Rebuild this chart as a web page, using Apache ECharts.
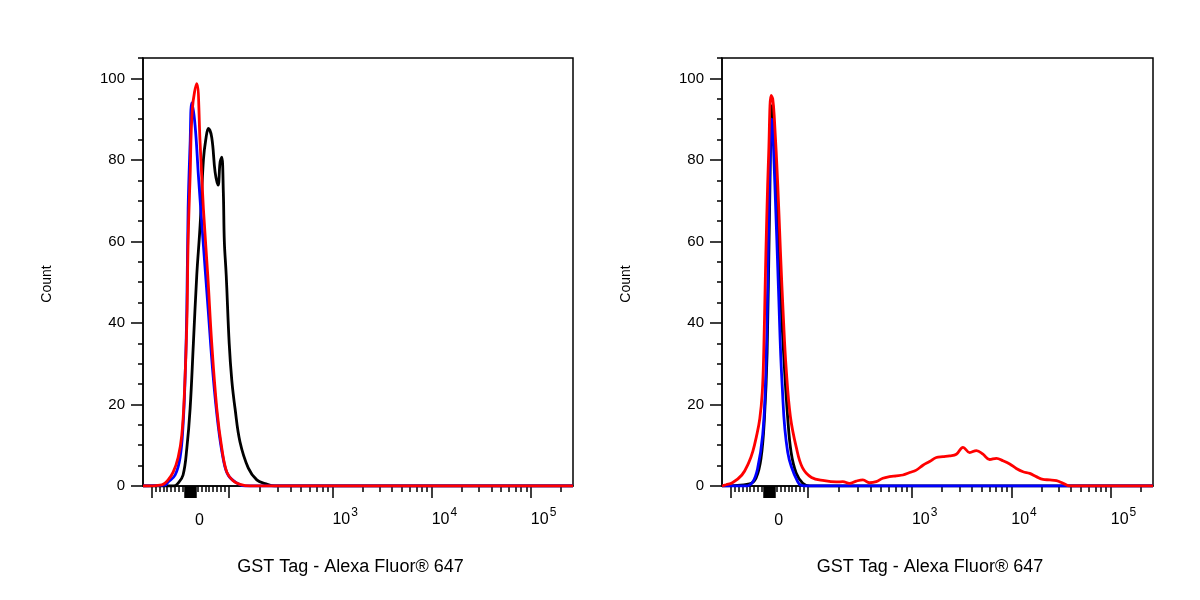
<!DOCTYPE html>
<html lang="en">
<head>
<meta charset="UTF-8">
<title>GST Tag - Alexa Fluor 647</title>
<script src="https://cdn.jsdelivr.net/npm/echarts@6.0.0/dist/echarts.min.js"></script>
<style>
    html, body { margin: 0; padding: 0; background: #fff; }
    #chart { width: 1200px; height: 600px; }
</style>
</head>
<body>
<div id="chart"></div>
<script>
// x is in display units of the biexponential axis: 10^3 -> 3, 10^4 -> 4, 10^5 -> 5
var leftBlack = [[1.09,0],[1.40,0],[1.444,0.7],[1.494,2.7],[1.532,9.3],[1.565,19],[1.598,35],[1.632,51.7],
    [1.666,64],[1.699,80],[1.723,85],[1.749,87.7],[1.783,85.5],[1.817,77],[1.847,73.8],[1.867,79.4],[1.884,80.7],
    [1.900,72],[1.910,60],[1.929,51.7],[1.959,35],[1.985,26],[2.018,19],[2.068,10.8],[2.152,4.4],[2.237,1.5],
    [2.32,0.6],[2.42,0],[5.425,0]];
var leftBlue = [[1.09,0],[1.31,0.2],[1.343,1],[1.414,2.7],[1.464,7],[1.494,15],[1.515,27],[1.532,43.6],
    [1.545,68],[1.565,84],[1.582,94],[1.615,88.5],[1.649,76],[1.696,60],[1.746,43.6],[1.797,27],[1.847,15],
    [1.897,6.9],[1.948,2.7],[2.038,0.7],[2.12,0],[5.425,0]];
var leftRed = [[1.09,0],[1.28,0.3],[1.343,1.5],[1.394,3.4],[1.444,7],[1.481,12.5],[1.508,23],[1.532,40],
    [1.545,60],[1.565,76],[1.588,92.6],[1.632,98.7],[1.666,84],[1.699,68],[1.743,51.7],[1.783,35],[1.834,19],
    [1.884,9.3],[1.935,3.4],[1.998,1.3],[2.068,0.4],[2.17,0],[5.425,0]];

var rightBlack = [[1.09,0],[1.366,0.5],[1.433,2],[1.483,6.9],[1.517,16.7],[1.544,32.8],[1.567,65.7],[1.594,93.4],
    [1.634,73.8],[1.675,49],[1.718,29],[1.751,16.7],[1.785,8.3],[1.836,3.2],[1.902,0.7],[1.97,0],[5.425,0]];
var rightBlue = [[1.09,0],[1.33,0],[1.399,1],[1.449,4.4],[1.499,12.5],[1.527,24.8],[1.55,49],[1.567,73.8],
    [1.59,90],[1.622,73.8],[1.657,49],[1.695,24.8],[1.751,8.3],[1.852,1],[1.92,0],[5.425,0]];
var rightRed = [[1.09,0],[1.13,0.3],[1.194,0.8],[1.29,2.7],[1.36,5.8],[1.40,8.5],[1.435,12],[1.47,16.5],
    [1.495,23],[1.51,33],[1.524,49],[1.54,65.7],[1.56,82],[1.584,95.8],[1.60,95],[1.617,90],[1.651,73.8],
    [1.678,57.4],[1.708,41],[1.735,29],[1.778,17],[1.838,9.4],[1.899,4.5],[1.99,2.1],[2.12,1.3],[2.241,1],
    [2.305,1.06],[2.372,0.65],[2.44,1.2],[2.507,1.5],[2.574,0.8],[2.641,1.06],[2.708,1.9],[2.775,2.3],
    [2.843,2.5],[2.909,2.7],[2.977,3.3],[3.044,3.9],[3.111,5.1],[3.178,6.0],[3.246,7.0],[3.312,7.2],[3.38,7.4],
    [3.447,7.8],[3.514,9.5],[3.581,8.2],[3.649,8.7],[3.715,7.8],[3.782,6.5],[3.85,6.8],[3.916,6.2],[3.984,5.4],
    [4.05,4.3],[4.118,3.5],[4.185,3.1],[4.251,2.3],[4.319,1.6],[4.387,1.5],[4.454,1.3],[4.521,0.65],[4.588,0],
    [5.425,0]];

// axis ticks, in raw fluorescence values
var xLabelVals = [0, 1e3, 1e4, 1e5];
var xMajorTickVals = [-100, 0, 100, 1e3, 1e4, 1e5];
var xZeroBlockVals = [-15, -13, -11, -9, -7, -5, -3, -1.5, 1.5, 3, 5, 7, 9, 11, 13, 15];
var xMinorTickVals = [-90, -80, -70, -60, -50, -40, -30, -20, 20, 30, 40, 50, 60, 70, 80, 90,
    200, 300, 400, 500, 600, 700, 800, 900, 2000, 3000, 4000, 5000, 6000, 7000, 8000, 9000,
    20000, 30000, 40000, 50000, 60000, 70000, 80000, 90000, 200000];
var yMajorVals = [0, 20, 40, 60, 80, 100];
var yMinorVals = [5, 10, 15, 25, 30, 35, 45, 50, 55, 65, 70, 75, 85, 90, 95, 105];

var xTitle = 'GST Tag - Alexa Fluor® 647';
var yTitle = 'Count';

var X_MIN = 1.09, X_MAX = 5.425, Y_MIN = 0, Y_MAX = 105;
var FONT = 'Liberation Sans, Arial, sans-serif';

// biexponential-ish display transform (linear around 0, log above 10^2)
function toDisplay(v) {
    if (Math.abs(v) <= 100) return 1.565 + 0.385 * v / 100;
    if (v < 1000) return 1.95 + 1.05 * Math.log10(v / 100);
    return Math.log10(v);
}

function xLabel(value) {
    if (Math.abs(value - toDisplay(0)) < 1e-6) return '{zero|0}';
    return '{base|10}{sup|' + Math.round(value) + '}';
}

var grids = [], xAxes = [], yAxes = [], series = [];

function addPanel(i, left, width, black, blue, red) {
    grids.push({
        left: left, top: 58, width: width, height: 428,
        show: true, borderColor: '#000', borderWidth: 1.5, backgroundColor: 'transparent'
    });
    xAxes.push({
        gridIndex: i, type: 'value', min: X_MIN, max: X_MAX, position: 'bottom',
        axisLine: { show: true, onZero: false, lineStyle: { color: '#000', width: 1.5 } },
        axisTick: { show: true, length: 12, lineStyle: { color: '#000', width: 1.5 },
            customValues: xMajorTickVals.concat(xZeroBlockVals).map(toDisplay) },
        axisLabel: {
            customValues: xLabelVals.map(toDisplay), formatter: xLabel, align: 'left', margin: 21,
            color: '#000', fontFamily: FONT,
            rich: {
                base: { fontSize: 16, fontFamily: FONT, color: '#000', verticalAlign: 'bottom' },
                zero: { fontSize: 16, fontFamily: FONT, color: '#000', verticalAlign: 'bottom', padding: [6, 0, 0, 5] },
                sup: { fontSize: 12, fontFamily: FONT, color: '#000', verticalAlign: 'top', padding: [0, 0, 9, 1] }
            }
        },
        splitLine: { show: false },
        name: xTitle, nameLocation: 'middle', nameGap: 72,
        nameTextStyle: { fontSize: 18, fontFamily: FONT, color: '#000', padding: [0, 15, 0, 0] }
    });
    xAxes.push({
        gridIndex: i, type: 'value', min: X_MIN, max: X_MAX, position: 'bottom',
        axisLine: { show: false, onZero: false },
        axisTick: { show: true, length: 6, lineStyle: { color: '#000', width: 1.5 },
            customValues: xMinorTickVals.map(toDisplay) },
        axisLabel: { show: false },
        splitLine: { show: false }
    });
    yAxes.push({
        gridIndex: i, type: 'value', min: Y_MIN, max: Y_MAX, position: 'left',
        axisLine: { show: true, onZero: false, lineStyle: { color: '#000', width: 1.5 } },
        axisTick: { show: true, length: 12, lineStyle: { color: '#000', width: 1.5 }, customValues: yMajorVals },
        axisLabel: { customValues: yMajorVals, margin: 18, fontSize: 15, fontFamily: FONT, color: '#000' },
        splitLine: { show: false },
        name: yTitle, nameLocation: 'middle', nameRotate: 90, nameGap: 89,
        nameTextStyle: { fontSize: 14, fontFamily: FONT, color: '#000', padding: [0, 24, 0, 0] }
    });
    yAxes.push({
        gridIndex: i, type: 'value', min: Y_MIN, max: Y_MAX, position: 'left',
        axisLine: { show: false, onZero: false },
        axisTick: { show: true, length: 5, lineStyle: { color: '#000', width: 1.5 }, customValues: yMinorVals },
        axisLabel: { show: false },
        splitLine: { show: false }
    });
    [[black, '#000000'], [blue, '#0000ff'], [red, '#ff0000']].forEach(function (s) {
        series.push({
            type: 'line', xAxisIndex: 2 * i, yAxisIndex: 2 * i, data: s[0],
            showSymbol: false, symbol: 'none', smooth: 0.4,
            lineStyle: { color: s[1], width: 2.8 }, itemStyle: { color: s[1] }
        });
    });
}

addPanel(0, 143, 430, leftBlack, leftBlue, leftRed);
addPanel(1, 722, 431, rightBlack, rightBlue, rightRed);

var myChart = echarts.init(document.getElementById('chart'));
myChart.setOption({
    animation: false,
    backgroundColor: '#fff',
    grid: grids,
    xAxis: xAxes,
    yAxis: yAxes,
    series: series
});
</script>
</body>
</html>
